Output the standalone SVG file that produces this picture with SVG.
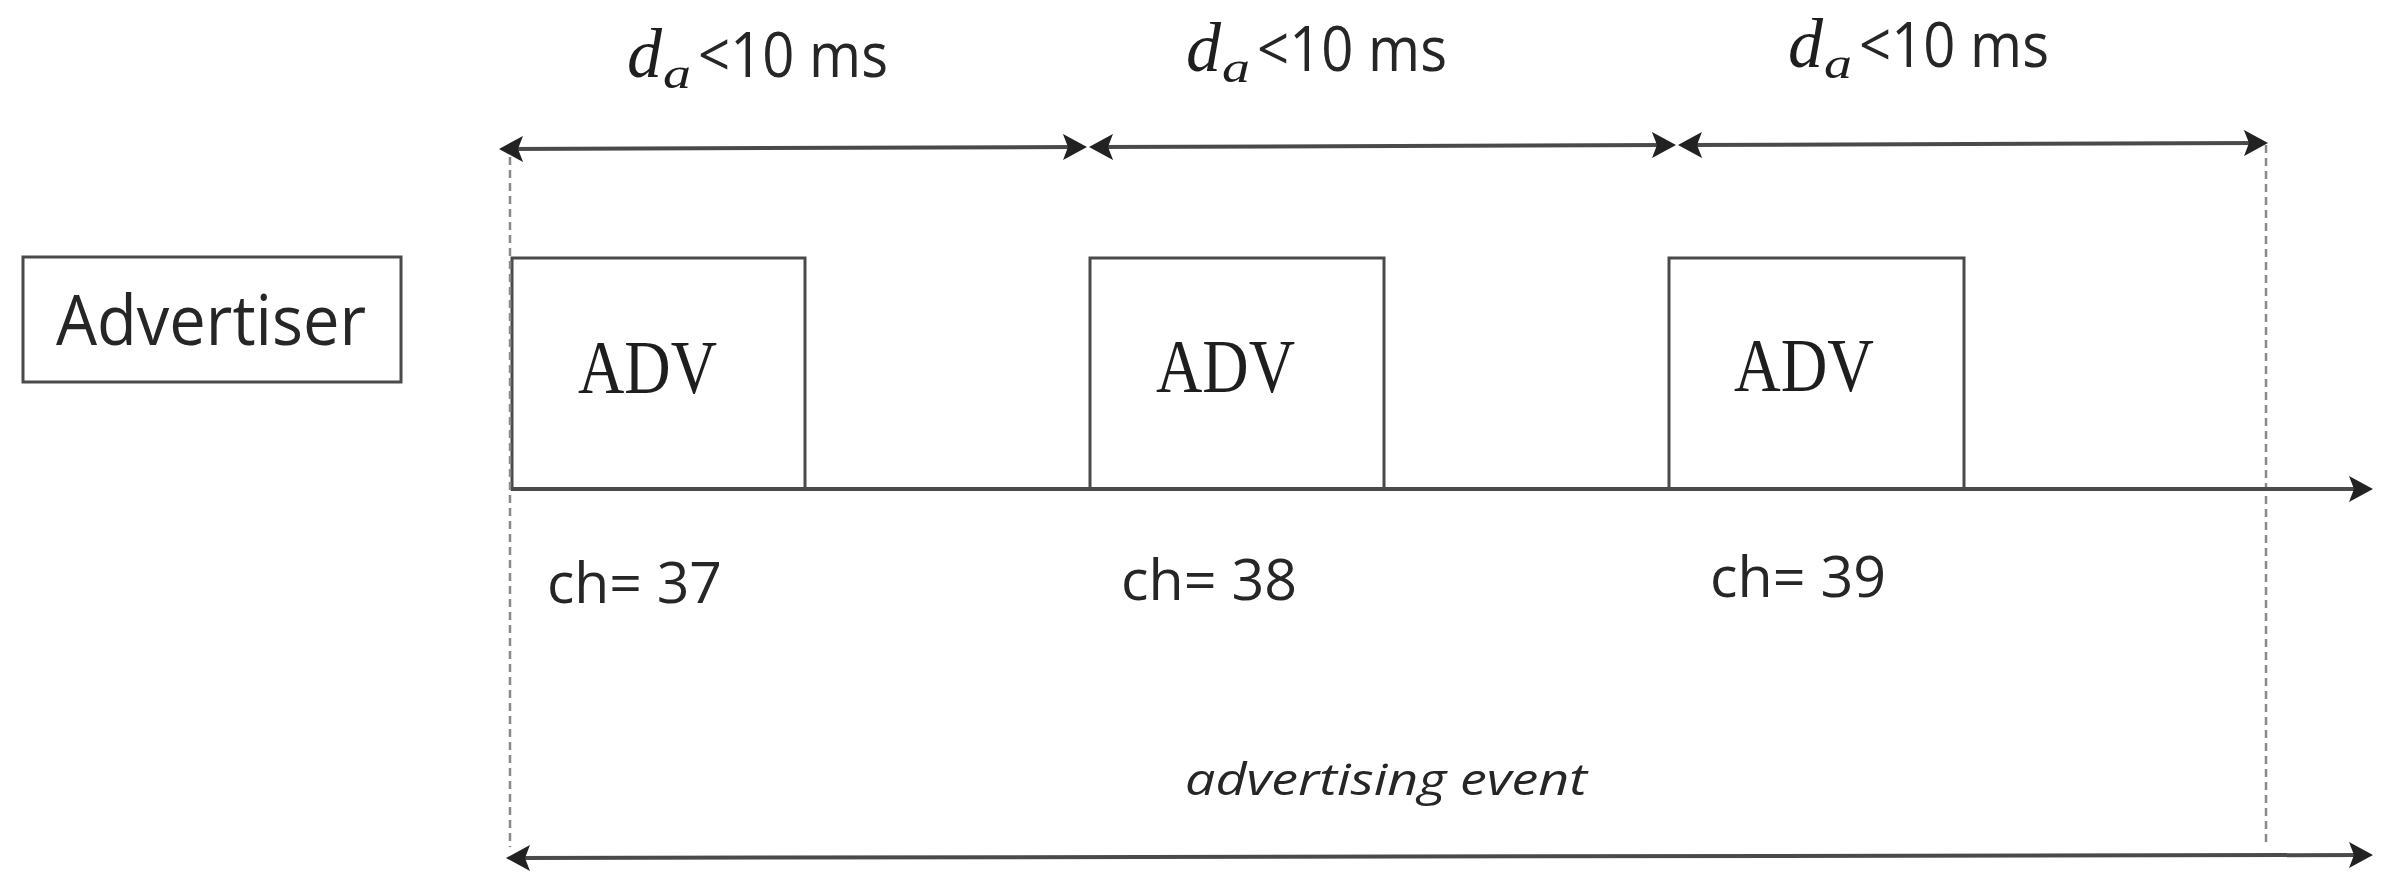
<svg xmlns="http://www.w3.org/2000/svg" width="2395" height="892" viewBox="0 0 2395 892">
  <defs>
    <marker id="ah" viewBox="0 0 24 26" refX="14" refY="13" markerWidth="24" markerHeight="26" markerUnits="userSpaceOnUse" orient="auto-start-reverse">
      <path d="M0,0 L24,13 L0,26 L5,13 Z" fill="#222"/>
    </marker>
  </defs>
  <style>
    .box { fill: #fff; stroke: #4a4a4a; stroke-width: 3; }
    .arr { stroke: #4a4a4a; stroke-width: 4; fill: none; }
    .dash { stroke: #8a8a8a; stroke-width: 2.5; stroke-dasharray: 8 5; fill: none; }
    .sans { font-family: "Open Sans", "Liberation Sans", sans-serif; fill: #262626; }
    .serif { font-family: "Liberation Serif", "DejaVu Serif", serif; fill: #1e1e1e; }
  </style>
  <rect width="2395" height="892" fill="#fff"/>

  <g id="advertiser">
    <rect class="box" x="23" y="257" width="378" height="125"/>
    <text class="sans" x="56" y="345" font-size="69" textLength="310" lengthAdjust="spacingAndGlyphs">Advertiser</text>
  </g>

  <g id="adv1">
    <rect class="box" x="512" y="258" width="293" height="231"/>
    <text class="serif" x="578" y="393" font-size="77" textLength="139" lengthAdjust="spacingAndGlyphs">ADV</text>
  </g>
  <g id="adv2">
    <rect class="box" x="1090" y="258" width="294" height="231"/>
    <text class="serif" x="1156" y="392" font-size="77" textLength="139" lengthAdjust="spacingAndGlyphs">ADV</text>
  </g>
  <g id="adv3">
    <rect class="box" x="1669" y="258" width="295" height="231"/>
    <text class="serif" x="1734" y="391" font-size="77" textLength="140" lengthAdjust="spacingAndGlyphs">ADV</text>
  </g>

  <g id="connectors">
    <line class="dash" x1="510" y1="157" x2="510" y2="847"/>
    <line class="dash" x1="2266" y1="145" x2="2266" y2="847"/>
    <line class="arr" x1="509" y1="149" x2="1077" y2="147" marker-start="url(#ah)" marker-end="url(#ah)"/>
    <line class="arr" x1="1099" y1="147" x2="1666" y2="145" marker-start="url(#ah)" marker-end="url(#ah)"/>
    <line class="arr" x1="1688" y1="145" x2="2258" y2="143" marker-start="url(#ah)" marker-end="url(#ah)"/>
    <line class="arr" x1="511" y1="489" x2="2363" y2="489" marker-end="url(#ah)"/>
    <line class="arr" x1="516" y1="858" x2="2363" y2="855" marker-start="url(#ah)" marker-end="url(#ah)"/>
  </g>

  <g id="labels-top">
    <g id="da1">
      <text class="serif" x="627" y="77" font-size="70" font-style="italic">d</text>
      <text class="serif" x="663" y="88" font-size="44" font-style="italic" textLength="28" lengthAdjust="spacingAndGlyphs">a</text>
      <text class="sans" x="698" y="77" font-size="63" textLength="190" lengthAdjust="spacingAndGlyphs">&lt;10 ms</text>
    </g>
    <g id="da2">
      <text class="serif" x="1186" y="71" font-size="70" font-style="italic">d</text>
      <text class="serif" x="1222" y="82" font-size="44" font-style="italic" textLength="28" lengthAdjust="spacingAndGlyphs">a</text>
      <text class="sans" x="1257" y="71" font-size="63" textLength="190" lengthAdjust="spacingAndGlyphs">&lt;10 ms</text>
    </g>
    <g id="da3">
      <text class="serif" x="1788" y="67" font-size="70" font-style="italic">d</text>
      <text class="serif" x="1824" y="78" font-size="44" font-style="italic" textLength="28" lengthAdjust="spacingAndGlyphs">a</text>
      <text class="sans" x="1859" y="67" font-size="63" textLength="190" lengthAdjust="spacingAndGlyphs">&lt;10 ms</text>
    </g>
  </g>

  <g id="channels">
    <text class="sans" x="547" y="603" font-size="56" textLength="175" lengthAdjust="spacingAndGlyphs">ch= 37</text>
    <text class="sans" x="1121" y="600" font-size="56" textLength="176" lengthAdjust="spacingAndGlyphs">ch= 38</text>
    <text class="sans" x="1710" y="597" font-size="56" textLength="176" lengthAdjust="spacingAndGlyphs">ch= 39</text>
  </g>

  <g id="event">
    <text class="sans" x="1185" y="795" font-size="44" font-style="italic" textLength="402" lengthAdjust="spacingAndGlyphs">advertising event</text>
  </g>
</svg>
